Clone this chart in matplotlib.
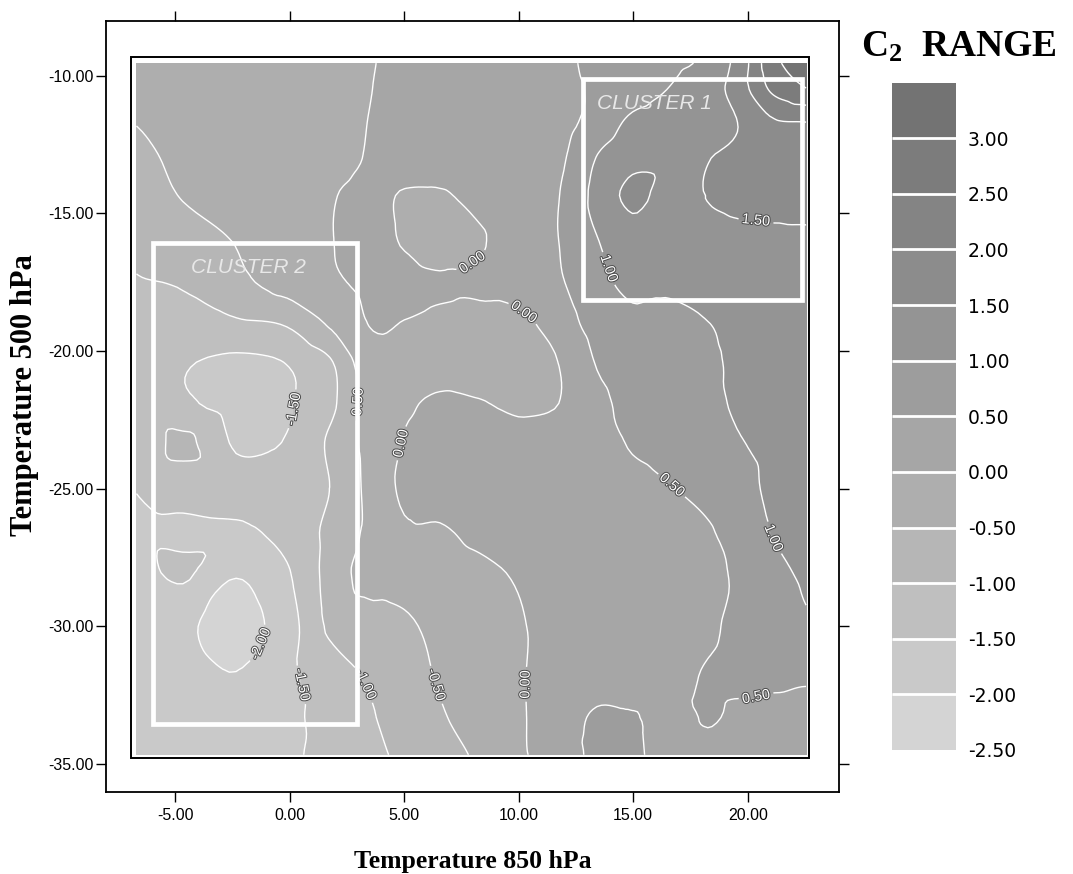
import numpy as np
import matplotlib.pyplot as plt
import matplotlib.patheffects as pe
import matplotlib.tri as mtri
from matplotlib.patches import Rectangle

plt.rcParams['axes.unicode_minus'] = False
plt.rcParams['contour.negative_linestyle'] = 'solid'
plt.rcParams['mathtext.fontset'] = 'custom'
plt.rcParams['mathtext.rm'] = 'Liberation Serif:bold'
plt.rcParams['mathtext.it'] = 'Liberation Serif:bold'
plt.rcParams['mathtext.bf'] = 'Liberation Serif:bold'

# grid nodes: temperature 850 hPa (x) and 500 hPa (y)
t850 = [-6.69, -4.66, -2.34, -0.12, 1.82, 3.46, 5.01, 6.56, 8.30, 10.23,
        11.97, 13.42, 14.97, 16.61, 18.26, 19.71, 20.96, 22.55]
t500 = [-9.54, -10.5, -11.7, -13.0, -14.35, -16.0, -17.5, -19.0, -20.4,
        -21.9, -23.3, -25.0, -26.6, -28.05, -30.0, -31.8, -33.3, -34.66]

# C2 values, one row per t500 node
c2_range = np.array([
    [-0.30, -0.27, -0.22, -0.16, -0.08, -0.02, 0.09, 0.15, 0.21, 0.28, 0.42, 0.62, 0.75, 0.90, 1.12, 1.75, 2.75, 3.48],
    [-0.36, -0.32, -0.26, -0.18, -0.09, -0.01, 0.10, 0.16, 0.22, 0.29, 0.39, 0.58, 0.80, 1.02, 1.27, 1.80, 2.53, 2.97],
    [-0.49, -0.40, -0.35, -0.25, -0.10, 0.005, 0.12, 0.18, 0.24, 0.30, 0.37, 0.70, 1.10, 1.25, 1.35, 1.53, 1.90, 1.99],
    [-0.61, -0.42, -0.36, -0.26, -0.10, 0.02, 0.12, 0.16, 0.22, 0.30, 0.47, 1.02, 1.35, 1.38, 1.49, 1.60, 1.72, 1.80],
    [-0.73, -0.48, -0.38, -0.25, -0.02, 0.06, -0.02, -0.03, 0.10, 0.25, 0.55, 1.15, 1.62, 1.30, 1.51, 1.58, 1.63, 1.66],
    [-0.885, -0.70, -0.48, -0.25, -0.01, 0.08, -0.02, -0.12, -0.03, 0.25, 0.55, 0.98, 1.25, 1.33, 1.38, 1.42, 1.42, 1.43],
    [-1.03, -0.965, -0.62, -0.30, -0.07, 0.08, 0.08, 0.03, 0.05, 0.25, 0.49, 0.85, 1.12, 1.08, 1.25, 1.33, 1.37, 1.40],
    [-1.11, -1.10, -1.07, -0.95, -0.42, 0.01, -0.01, -0.05, -0.08, -0.08, 0.30, 0.70, 0.88, 0.90, 0.99, 1.15, 1.25, 1.30],
    [-1.20, -1.45, -1.60, -1.48, -1.03, -0.20, -0.12, -0.12, -0.15, -0.15, 0.05, 0.53, 0.70, 0.80, 0.92, 1.10, 1.20, 1.25],
    [-1.30, -1.42, -1.68, -1.55, -1.10, -0.30, -0.06, 0.05, 0.02, -0.08, 0.03, 0.40, 0.60, 0.72, 0.85, 1.10, 1.18, 1.22],
    [-1.38, -0.90, -1.56, -1.47, -0.90, -0.35, 0.02, 0.12, 0.15, 0.15, 0.18, 0.30, 0.55, 0.68, 0.80, 0.98, 1.12, 1.18],
    [-1.48, -1.30, -1.35, -1.20, -0.98, -0.38, 0.08, 0.12, 0.16, 0.18, 0.20, 0.25, 0.35, 0.48, 0.62, 0.80, 1.08, 1.13],
    [-1.62, -1.60, -1.58, -1.35, -0.85, -0.40, -0.06, -0.04, 0.08, 0.15, 0.20, 0.25, 0.30, 0.38, 0.46, 0.70, 0.99, 1.10],
    [-1.65, -1.42, -1.96, -1.55, -0.80, -0.30, -0.25, -0.18, -0.08, 0.05, 0.15, 0.20, 0.25, 0.32, 0.42, 0.58, 0.88, 1.05],
    [-1.70, -1.90, -2.20, -1.72, -0.90, -0.75, -0.60, -0.35, -0.20, -0.01, 0.12, 0.20, 0.25, 0.33, 0.45, 0.60, 0.80, 0.93],
    [-1.75, -1.80, -1.98, -1.62, -1.25, -0.95, -0.75, -0.45, -0.22, -0.01, 0.15, 0.30, 0.35, 0.42, 0.52, 0.56, 0.58, 0.55],
    [-1.78, -1.80, -1.85, -1.62, -1.30, -1.05, -0.80, -0.55, -0.30, -0.02, 0.30, 0.56, 0.52, 0.40, 0.52, 0.45, 0.40, 0.38],
    [-1.80, -1.82, -1.80, -1.58, -1.35, -1.12, -0.90, -0.68, -0.42, -0.03, 0.25, 0.62, 0.56, 0.38, 0.42, 0.38, 0.35, 0.33],
])

levels = [-2.5, -2.0, -1.5, -1.0, -0.5, 0.0, 0.5, 1.0, 1.5, 2.0, 2.5, 3.0, 3.5]
fill_colors = ['#d4d4d4', '#c9c9c9', '#bfbfbf', '#b6b6b6', '#aeaeae', '#a6a6a6',
               '#9d9d9d', '#949494', '#8c8c8c', '#848484', '#7c7c7c', '#737373']

# where the contour labels sit on the map
label_pos = [(8.18, -17.0), (10.09, -18.8), (3.3, -21.96), (5.0, -23.37),
             (-0.14, -22.07), (-1.41, -30.58), (0.64, -32.1), (3.3, -32.1),
             (6.48, -32.1), (10.27, -32.1), (16.71, -24.85), (21.1, -26.8),
             (20.3, -32.3), (13.93, -17.0), (20.36, -15.2)]

# triangulate the grid and let matplotlib smooth the surface for drawing
gx, gy = np.meshgrid(t850, t500)
tri = mtri.Triangulation(gx.ravel(), gy.ravel())
refiner = mtri.UniformTriRefiner(tri)
interp = mtri.CubicTriInterpolator(tri, c2_range.ravel(), kind='geom')
tri_f, c2_f = refiner.refine_field(c2_range.ravel(), triinterpolator=interp, subdiv=3)
c2_f = np.clip(c2_f, levels[0] + 0.01, levels[-1] - 0.01)

fig = plt.figure(figsize=(10.73, 8.74), dpi=100)
ax = fig.add_axes([0.0992, 0.0942, 0.6830, 0.8821])

cf = ax.tricontourf(tri_f, c2_f, levels=levels, colors=fill_colors)
cs = ax.tricontour(tri_f, c2_f, levels=levels, colors='white',
                   linewidths=1.0, linestyles='solid')
lbls = ax.clabel(cs, fmt='%.2f', manual=label_pos, inline=True, fontsize=10.5,
                 colors='white', inline_spacing=3)
for t in lbls:
    t.set_family('Liberation Sans')
    t.set_path_effects([pe.withStroke(linewidth=1.4, foreground='#4a4a4a')])

# frame around the map area
ax.add_patch(Rectangle((-6.94, -34.78), 29.61, 25.46, fill=False,
                       ec='black', lw=1.4, zorder=5))

# the two cluster boxes
ax.add_patch(Rectangle((-5.97, -33.54), 8.91, 17.47, fill=False,
                       ec='white', lw=3.4, zorder=6))
ax.add_patch(Rectangle((12.8, -18.15), 9.58, 8.04, fill=False,
                       ec='white', lw=3.4, zorder=6))
ax.text(15.91, -11.02, 'CLUSTER 1', fontsize=15, style='italic',
        family='Liberation Sans', color='#e8e8e8', ha='center', va='center', zorder=7)
ax.text(-1.78, -16.98, 'CLUSTER 2', fontsize=15, style='italic',
        family='Liberation Sans', color='#e8e8e8', ha='center', va='center', zorder=7)

ax.set_xlim(-8, 24)
ax.set_ylim(-36, -8)
ax.set_xticks([-5, 0, 5, 10, 15, 20])
ax.set_yticks([-35, -30, -25, -20, -15, -10])
ax.set_xticklabels(['%.2f' % v for v in [-5, 0, 5, 10, 15, 20]])
ax.set_yticklabels(['%.2f' % v for v in [-35, -30, -25, -20, -15, -10]])
ax.tick_params(direction='out', length=7.5, width=1, top=True, right=True,
               labelsize=11.5)
ax.tick_params(axis='x', pad=4)
ax.tick_params(axis='y', pad=2)
for lab in ax.get_xticklabels() + ax.get_yticklabels():
    lab.set_family('Liberation Sans')
for sp in ax.spines.values():
    sp.set_linewidth(1.3)

fig.text(0.4406, 0.0065, 'Temperature 850 hPa', fontsize=18.5, fontweight='bold',
         family='Liberation Serif', ha='center', va='baseline')
fig.text(0.0224, 0.548, 'Temperature 500 hPa', fontsize=22, fontweight='bold',
         family='Liberation Serif', ha='center', va='center', rotation=90)

# colour key
cax = fig.add_axes([0.8313, 0.1419, 0.0592, 0.7636])
cb = fig.colorbar(cf, cax=cax, ticks=levels[:-1], drawedges=True)
cb.outline.set_visible(False)
cb.dividers.set_color('white')
cb.dividers.set_linewidth(2)
cb.ax.tick_params(length=0, pad=9, labelsize=13.5)
cb.ax.set_yticklabels(['%.2f' % v for v in levels[:-1]])
for lab in cb.ax.get_yticklabels():
    lab.set_family('DejaVu Sans')

fig.text(0.8024, 0.9348, r'C$_2$  RANGE', fontsize=27, fontweight='bold',
         family='Liberation Serif', ha='left', va='baseline')

fig.savefig('out.png', dpi=100)
